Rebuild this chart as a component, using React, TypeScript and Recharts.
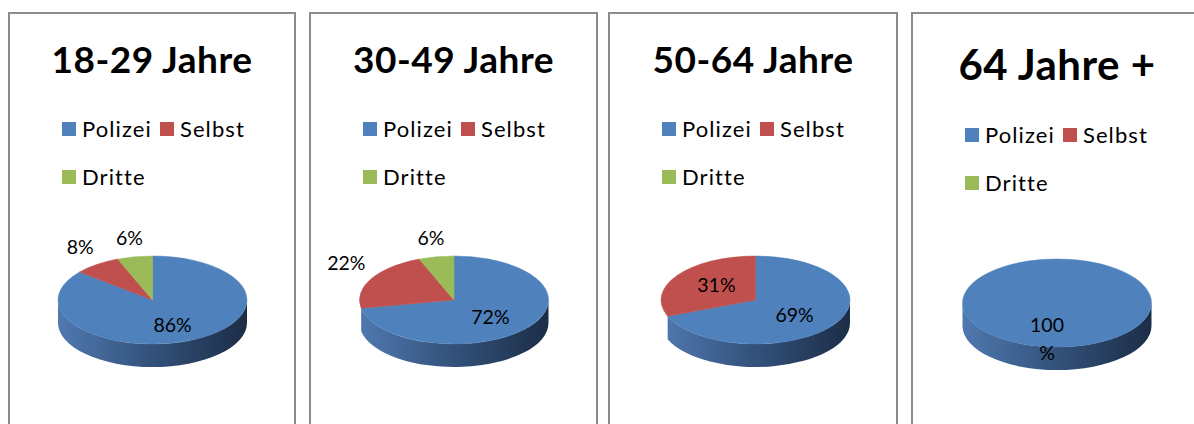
import React from 'react';
import { PieChart, Pie } from 'recharts';

// age groups (one panel each)
const GROUPS = ['18-29 Jahre', '30-49 Jahre', '50-64 Jahre', '64 Jahre +'];
const CATEGORIES = ['Polizei', 'Selbst', 'Dritte'];
// share in percent per age group
const POLIZEI = [86, 72, 69, 100];
const SELBST = [8, 22, 31, 0];
const DRITTE = [6, 6, 0, 0];
const SERIES = [POLIZEI, SELBST, DRITTE];

const COLORS = ['#4f81bd', '#c0504d', '#9bbb59'];
const SIDE_COLORS = [
  ['#5079b0', '#35557f', '#1c2d47'],
  ['#b24e4b', '#86383a', '#57201f'],
  ['#8fae52', '#6b8a3a', '#4a6224'],
];

const FONT = 'Lato, "Open Sans", sans-serif';
const RADIUS = 94.5;
const TILT = 44 / 94.5;
const DEPTH = 23;
const RAD = Math.PI / 180;
const PANEL_TOP = 12;
const CHART_TOP = 200;
const CHART_H = 200;

const PANELS = [
  { left: 8, width: 288, cx: 152.5, cy: 300, titleSize: 37, titleTop: 26, legendTop: 103.5 },
  { left: 309, width: 289, cx: 454, cy: 300, titleSize: 37, titleTop: 26, legendTop: 103.5 },
  { left: 608, width: 290, cx: 755.5, cy: 300, titleSize: 37, titleTop: 26, legendTop: 103.5 },
  { left: 911, width: 292, cx: 1057, cy: 303, titleSize: 42, titleTop: 28.75, legendTop: 109.5 },
];

const pt = (cx: number, cy: number, rx: number, ry: number, a: number) =>
  [cx + rx * Math.cos(a * RAD), cy - ry * Math.sin(a * RAD)];

// front wall pieces of a slice inside [from, to] (+ k*360)
const wallPieces = (cx: number, cy: number, rx: number, ry: number, lo: number, hi: number, from: number, to: number) => {
  const out: string[] = [];
  for (let k = -2; k <= 1; k++) {
    const a = Math.max(lo, from + 360 * k);
    const b = Math.min(hi, to + 360 * k);
    if (b - a > 0.01) {
      const [bx, by] = pt(cx, cy, rx, ry, b);
      const [ax, ay] = pt(cx, cy, rx, ry, a);
      out.push(
        `M ${bx} ${by} A ${rx} ${ry} 0 0 1 ${ax} ${ay} L ${ax} ${ay + DEPTH} A ${rx} ${ry} 0 0 0 ${bx} ${by + DEPTH} Z`
      );
    }
  }
  return out;
};

// flattened "3d" slice: top face plus the visible front wall
const renderFace = (uid: string) => (p: any) => {
  const { cx, cy, outerRadius, startAngle, endAngle, index, value } = p;
  if (!value) return <g />;
  const rx = outerRadius;
  const ry = outerRadius * TILT;
  const hi = Math.max(startAngle, endAngle);
  const lo = Math.min(startAngle, endAngle);
  const span = hi - lo;
  const color = COLORS[index];
  const gid = `side-${uid}-${index}`;

  let face: string;
  if (span >= 359.99) {
    face = `M ${cx - rx} ${cy} A ${rx} ${ry} 0 1 1 ${cx + rx} ${cy} A ${rx} ${ry} 0 1 1 ${cx - rx} ${cy} Z`;
  } else {
    const [x1, y1] = pt(cx, cy, rx, ry, hi);
    const [x2, y2] = pt(cx, cy, rx, ry, lo);
    face = `M ${cx} ${cy} L ${x1} ${y1} A ${rx} ${ry} 0 ${span > 180 ? 1 : 0} 1 ${x2} ${y2} Z`;
  }

  // the slice in front (at 270deg) carries the whole silhouette wall,
  // the others only show where they are clearly in front
  const inFront = [-90, 270].some((a) => a >= lo && a <= hi);
  const walls = inFront
    ? wallPieces(cx, cy, rx, ry, lo, hi, 180, 360)
    : wallPieces(cx, cy, rx, ry, lo, hi, 202, 338);

  const sc = SIDE_COLORS[index];
  return (
    <g>
      <defs>
        <linearGradient id={gid} gradientUnits="userSpaceOnUse" x1={cx - rx} y1={0} x2={cx + rx} y2={0}>
          <stop offset="0%" stopColor={sc[0]} />
          <stop offset="45%" stopColor={sc[1]} />
          <stop offset="100%" stopColor={sc[2]} />
        </linearGradient>
      </defs>
      {walls.map((d, i) => (
        <path key={i} d={d} fill={`url(#${gid})`} stroke="none" />
      ))}
      <path d={face} fill={color} stroke={color} strokeWidth={0.5} />
    </g>
  );
};

const renderValue = (p: any) => {
  const { cx, cy, outerRadius, midAngle, percent, value } = p;
  if (!value) return <g />;
  const rx = outerRadius;
  const ry = outerRadius * TILT;
  const c = Math.cos(midAngle * RAD);
  const s = Math.sin(midAngle * RAD);
  let x: number;
  let y: number;
  if (percent >= 0.25) {
    x = cx + rx * c * 0.5;
    y = cy - ry * s * 0.62;
  } else {
    x = cx + rx * c * 1.3;
    y = cy - ry * s * 1.1 - 14;
  }
  const wrapped = percent >= 0.999;
  const lines = wrapped ? [String(value), '%'] : [`${value}%`];
  if (wrapped) {
    x -= 10;
    y -= 5;
  }
  return (
    <text x={x} y={y + 7} textAnchor="middle" fill="#000" fontFamily={FONT} fontSize={19.5}>
      {lines.map((l, i) => (
        <tspan key={i} x={x} dy={i === 0 ? 0 : 28}>
          {l}
        </tspan>
      ))}
    </text>
  );
};

const Panel: React.FC<{ idx: number }> = ({ idx }) => {
  const cfg = PANELS[idx];
  const data = CATEGORIES.map((name, i) => ({ name, value: SERIES[i][idx] }));
  const innerW = cfg.width - 4;
  const pieCx = cfg.cx - cfg.left - 2;
  const pieCy = cfg.cy - CHART_TOP;

  return (
    <div
      style={{
        position: 'absolute',
        left: cfg.left,
        top: PANEL_TOP,
        width: cfg.width,
        height: 440,
        border: '2px solid #8c8c8c',
        boxSizing: 'border-box',
        background: '#fff',
      }}
    >
      <div
        style={{
          position: 'absolute',
          left: 0,
          width: innerW,
          top: cfg.titleTop,
          textAlign: 'center',
          fontFamily: FONT,
          fontWeight: 700,
          fontSize: cfg.titleSize,
          lineHeight: `${cfg.titleSize}px`,
          letterSpacing: 0.5,
          color: '#000',
          whiteSpace: 'nowrap',
        }}
      >
        {GROUPS[idx]}
      </div>
      <div
        style={{
          position: 'absolute',
          left: 52,
          top: cfg.legendTop,
          width: 205,
          display: 'flex',
          flexWrap: 'wrap',
          rowGap: 26,
          fontFamily: FONT,
          fontSize: 22,
          lineHeight: '22px',
          letterSpacing: 1.1,
          color: '#000',
        }}
      >
        {CATEGORIES.map((name, i) => (
          <div key={name} style={{ display: 'flex', alignItems: 'center', marginRight: 8, height: 22 }}>
            <span style={{ display: 'inline-block', width: 14, height: 14, background: COLORS[i], marginRight: 6 }} />
            <span>{name}</span>
          </div>
        ))}
      </div>
      <div style={{ position: 'absolute', left: 0, top: CHART_TOP - PANEL_TOP - 2 }}>
        <PieChart width={innerW} height={CHART_H} margin={{ top: 0, right: 0, bottom: 0, left: 0 }}>
          <Pie
            data={data}
            dataKey="value"
            nameKey="name"
            cx={pieCx}
            cy={pieCy}
            outerRadius={RADIUS}
            startAngle={90}
            endAngle={-270}
            fill="none"
            stroke="none"
            label={renderFace(String(idx))}
            labelLine={false}
            isAnimationActive={false}
          />
          <Pie
            data={data}
            dataKey="value"
            nameKey="name"
            cx={pieCx}
            cy={pieCy}
            outerRadius={RADIUS}
            startAngle={90}
            endAngle={-270}
            fill="none"
            stroke="none"
            label={renderValue}
            labelLine={false}
            isAnimationActive={false}
          />
        </PieChart>
      </div>
    </div>
  );
};

export default function App() {
  return (
    <div
      style={{
        position: 'fixed',
        left: 0,
        top: 0,
        width: 1194,
        height: 424,
        overflow: 'hidden',
        background: '#fff',
      }}
    >
      {GROUPS.map((_, i) => (
        <Panel key={i} idx={i} />
      ))}
    </div>
  );
}
